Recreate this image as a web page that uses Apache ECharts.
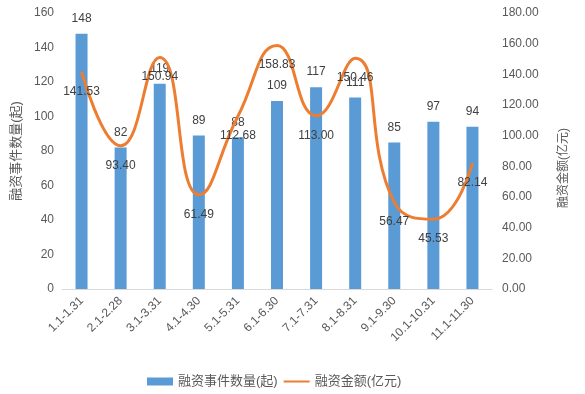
<!DOCTYPE html>
<html>
<head>
<meta charset="utf-8">
<script src="https://cdn.jsdelivr.net/npm/echarts@6/dist/echarts.min.js"></script>
<style>html,body{margin:0;padding:0;background:#fff}#c{width:585px;height:394px}</style>
</head>
<body>
<div id="c"></div>
<script>
var categories = ["1.1-1.31","2.1-2.28","3.1-3.31","4.1-4.30","5.1-5.31","6.1-6.30","7.1-7.31","8.1-8.31","9.1-9.30","10.1-10.31","11.1-11.30"];
var eventCounts = [148, 82, 119, 89, 88, 109, 117, 111, 85, 97, 94];
var amounts = [141.53, 93.40, 150.94, 61.49, 112.68, 158.83, 113.00, 150.46, 56.47, 45.53, 82.14];
var leftTicks = {min: 0, max: 160, interval: 20};
var rightTicks = {min: 0, max: 180, interval: 20};

var FONT = "Liberation Sans, Noto Sans CJK SC, sans-serif";
var chart = echarts.init(document.getElementById('c'));
chart.setOption({
  animation: false,
  textStyle: {fontFamily: FONT},
  grid: {left: 62, right: 93, top: 13, bottom: 105},
  legend: {
    left: 142, top: 370,
    itemWidth: 26, itemHeight: 8, itemGap: 5,
    textStyle: {fontSize: 13, color: '#595959', fontFamily: FONT},
    data: [
      {name: '融资事件数量(起)', icon: 'rect'},
      {name: '融资金额(亿元)', itemStyle: {opacity: 0}}
    ]
  },
  xAxis: {
    type: 'category',
    data: categories,
    axisLine: {lineStyle: {color: '#D9D9D9', width: 1}},
    axisTick: {show: false},
    axisLabel: {rotate: 45, color: '#595959', fontSize: 12, interval: 0, margin: 10, fontFamily: FONT}
  },
  yAxis: [{
    type: 'value', min: leftTicks.min, max: leftTicks.max, interval: leftTicks.interval,
    name: '融资事件数量(起)', nameLocation: 'middle', nameRotate: 90, nameGap: 34,
    nameTextStyle: {fontSize: 13, color: '#595959', fontFamily: FONT},
    axisLine: {show: false}, axisTick: {show: false}, splitLine: {show: false},
    axisLabel: {color: '#595959', fontSize: 12, margin: 8, fontFamily: FONT}
  }, {
    type: 'value', min: rightTicks.min, max: rightTicks.max, interval: rightTicks.interval,
    name: '融资金额(亿元)', nameLocation: 'middle', nameRotate: 90, nameGap: 66,
    nameTextStyle: {fontSize: 12, color: '#595959', fontFamily: FONT, padding: [0, 34, 0, 0]},
    axisLine: {show: false}, axisTick: {show: false}, splitLine: {show: false},
    axisLabel: {color: '#595959', fontSize: 12, margin: 10, fontFamily: FONT,
      formatter: function (v) { return v.toFixed(2); }}
  }],
  series: [{
    name: '融资事件数量(起)', type: 'bar', data: eventCounts, barWidth: 12,
    itemStyle: {color: '#5B9BD5'},
    label: {show: true, position: 'top', distance: 9, color: '#404040', fontSize: 12, fontFamily: FONT}
  }, {
    name: '融资金额(亿元)', type: 'line', yAxisIndex: 1, data: amounts, smooth: 0.5,
    symbol: 'circle', symbolSize: 1, showSymbol: true,
    lineStyle: {color: '#ED7D31', width: 3},
    itemStyle: {color: '#ED7D31'},
    label: {show: true, position: 'bottom', distance: 13, color: '#404040', fontSize: 12, fontFamily: FONT,
      formatter: function (p) { return p.value.toFixed(2); }}
  }]
});
</script>
</body>
</html>
